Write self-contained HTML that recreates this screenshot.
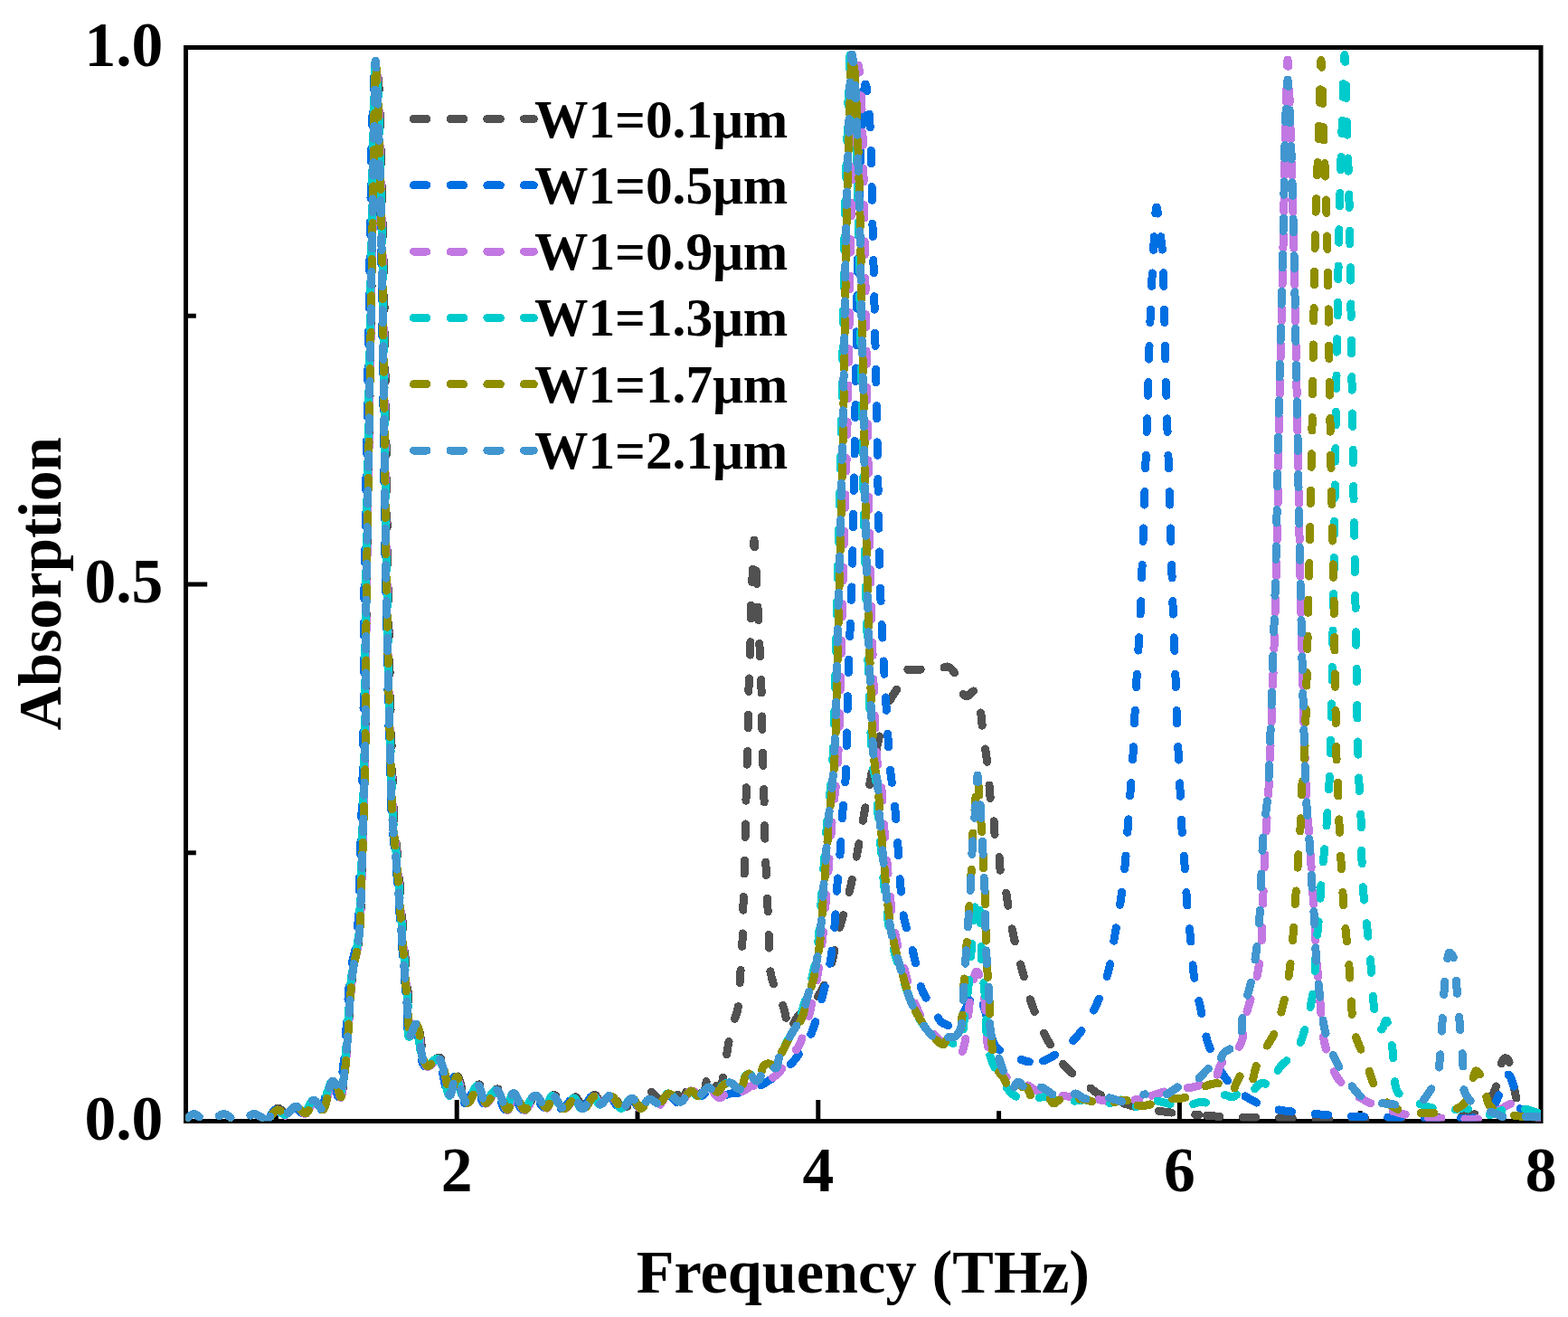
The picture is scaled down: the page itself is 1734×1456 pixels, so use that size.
<!DOCTYPE html>
<html><head><meta charset="utf-8"><title>Absorption vs Frequency</title>
<style>
html,body{margin:0;padding:0;background:#fff;}
svg{display:block;}
text{font-family:"Liberation Serif","Times New Roman",serif;font-weight:bold;fill:#000;}
</style></head><body>
<svg width="1734" height="1456" viewBox="0 0 1734 1456">
<defs><clipPath id="pc"><rect x="205.5" y="52.5" width="1498.5" height="1187.0"/></clipPath></defs>
<rect width="1734" height="1456" fill="#fff"/>
<g stroke="#000" stroke-width="5" fill="none">
<rect x="205.5" y="52.5" width="1498.5" height="1187.0"/>
<line x1="505.2" y1="1239.5" x2="505.2" y2="1216.0"/>
<line x1="904.8" y1="1239.5" x2="904.8" y2="1216.0"/>
<line x1="1304.4" y1="1239.5" x2="1304.4" y2="1216.0"/>
<line x1="305.4" y1="1239.5" x2="305.4" y2="1228.2"/>
<line x1="705.0" y1="1239.5" x2="705.0" y2="1228.2"/>
<line x1="1104.6" y1="1239.5" x2="1104.6" y2="1228.2"/>
<line x1="1504.2" y1="1239.5" x2="1504.2" y2="1228.2"/>
<line x1="205.5" y1="646.0" x2="229.2" y2="646.0"/>
<line x1="205.5" y1="942.8" x2="216.8" y2="942.8"/>
<line x1="205.5" y1="349.2" x2="216.8" y2="349.2"/>
</g>
<g clip-path="url(#pc)" shape-rendering="crispEdges" fill="none" stroke-width="9" stroke-linecap="round" stroke-linejoin="round" stroke-dasharray="14.5 25.8">
<path d="M205.0 1238.0C208.0 1235.8 211.0 1231.7 214.0 1231.5C216.7 1231.3 219.3 1234.4 222.0 1236.0C224.8 1237.6 227.7 1241.0 230.5 1241.0C233.3 1241.0 236.1 1237.6 239.0 1236.0C241.8 1234.4 244.7 1231.5 247.5 1231.5C250.3 1231.5 253.2 1234.4 256.0 1236.0C258.7 1237.6 261.3 1241.0 264.0 1241.0C266.8 1241.0 269.6 1237.6 272.5 1236.0C275.3 1234.4 278.2 1231.6 281.0 1231.5C283.7 1231.4 286.4 1234.1 289.0 1235.0C291.4 1235.9 293.6 1237.7 296.0 1237.0" stroke="#515151" stroke-dashoffset="36.29"/>
<path d="M296.0 1237.0C299.6 1236.0 303.4 1225.7 307.2 1225.2C310.5 1224.8 313.9 1231.4 317.2 1231.2C320.9 1230.9 324.6 1222.3 328.2 1222.2C331.6 1222.1 335.1 1229.7 338.2 1229.2C341.9 1228.6 344.8 1215.4 348.2 1215.2C351.2 1215.0 354.7 1225.7 357.2 1225.2C360.3 1224.6 361.9 1210.8 364.2 1205.2C365.9 1200.9 367.4 1194.4 369.2 1194.2C370.5 1194.0 372.0 1197.0 373.2 1199.2C374.8 1202.2 376.0 1211.3 377.2 1211.2C378.9 1211.1 380.1 1195.3 381.3 1186.0C382.7 1174.7 383.6 1161.8 384.7 1148.0C386.0 1131.6 386.9 1108.9 388.3 1094.0C389.3 1083.4 390.1 1076.0 391.5 1067.0C392.9 1058.0 395.5 1051.5 396.9 1040.0C399.3 1020.1 399.4 987.2 400.5 958.0C401.7 924.5 402.9 891.5 403.7 850.0C404.8 793.5 404.7 716.7 405.5 650.0C406.4 583.3 407.7 516.7 408.8 450.0C409.9 383.3 411.2 305.2 412.1 250.0C412.7 210.9 413.1 181.8 413.7 150.0C414.2 121.0 413.8 67.1 415.3 67.0C416.2 67.0 418.0 84.1 418.9 95.0C420.2 110.2 420.2 128.9 420.9 150.0C421.8 178.4 422.8 210.9 423.6 250.0C424.7 305.2 425.6 383.3 426.5 450.0C427.4 516.7 427.9 583.3 429.1 650.0C430.3 716.7 432.4 804.4 433.8 850.0C434.5 873.7 434.7 886.0 435.8 904.0C437.0 922.0 439.2 939.9 440.7 958.0C442.2 976.2 443.3 994.8 444.7 1013.0C446.0 1031.1 447.4 1049.0 448.8 1067.0C450.2 1085.0 452.0 1106.6 452.9 1121.0C453.5 1130.7 452.4 1144.8 454.2 1145.2C455.6 1145.5 459.1 1130.9 461.2 1131.2C464.5 1131.6 466.2 1163.9 469.2 1171.2C470.5 1174.3 471.2 1176.8 473.2 1177.2C476.1 1177.8 482.5 1167.8 486.2 1169.2C492.3 1171.5 495.4 1210.2 498.9 1210.2C501.4 1210.2 502.5 1188.8 505.2 1188.7C508.4 1188.5 512.7 1217.4 517.2 1217.9C521.1 1218.3 526.5 1198.4 530.0 1198.8C533.3 1199.1 534.1 1217.3 537.6 1217.9C540.9 1218.5 546.4 1203.4 550.2 1203.9C554.5 1204.4 558.4 1225.3 561.7 1225.2C564.6 1225.1 566.1 1208.0 569.2 1207.7C572.4 1207.4 576.7 1225.0 580.8 1225.2C584.7 1225.4 589.1 1210.3 593.2 1210.2C597.1 1210.1 601.6 1223.2 604.9 1222.9C608.0 1222.6 609.5 1210.4 612.5 1210.2C615.8 1210.0 619.8 1223.9 623.9 1224.2C627.9 1224.5 633.0 1212.4 636.6 1212.8C640.0 1213.2 642.0 1225.0 645.2 1225.2C648.9 1225.4 654.2 1210.1 657.8 1210.2C660.7 1210.3 662.3 1219.9 665.2 1220.2C668.4 1220.5 672.5 1210.0 676.2 1210.2C680.4 1210.4 684.3 1223.5 689.2 1224.2C694.2 1224.9 700.7 1217.0 706.0 1214.0" stroke="#515151" stroke-dashoffset="25.21"/>
<path d="M706.0 1214.0C710.7 1211.4 715.2 1206.5 719.4 1207.0C723.9 1207.5 727.8 1218.0 732.0 1218.0C736.4 1218.0 741.2 1206.0 745.2 1206.0C748.4 1206.0 751.2 1214.3 754.0 1214.0C757.5 1213.6 760.7 1199.2 764.0 1199.0C766.7 1198.8 769.2 1207.0 772.0 1208.0C774.0 1208.7 776.4 1208.5 778.0 1207.0C781.0 1204.3 781.3 1187.2 783.5 1187.0C785.4 1186.8 787.2 1198.3 790.0 1200.0C791.9 1201.2 794.8 1201.3 796.5 1200.0C799.3 1197.9 799.7 1188.3 800.8 1183.0C801.8 1178.4 802.3 1174.3 803.0 1170.0C803.7 1165.7 804.2 1161.4 805.0 1157.0C805.8 1152.4 806.9 1147.7 808.0 1143.0C809.2 1138.1 810.6 1132.8 812.0 1128.0C813.3 1123.5 815.0 1120.4 816.0 1115.0C817.6 1106.4 817.7 1092.9 818.5 1081.0C819.4 1068.0 820.4 1053.6 821.0 1040.0C821.6 1026.6 821.6 1013.3 822.0 1000.0C822.4 986.7 822.9 975.6 823.3 960.0C823.9 937.9 824.5 901.9 825.1 880.0C825.5 864.7 825.9 854.2 826.3 841.0C826.7 827.5 827.1 813.6 827.4 800.0C827.7 786.6 827.6 773.3 828.0 760.0C828.4 746.7 829.3 733.4 829.7 720.0C830.1 706.4 829.9 692.7 830.3 679.0C830.7 665.3 831.4 651.7 832.0 638.0C832.6 624.3 833.3 597.0 834.0 597.0C834.8 597.0 835.8 625.0 836.5 638.0C837.1 649.9 837.5 660.1 838.0 672.0C838.6 685.0 839.3 699.6 839.9 713.0C840.5 725.9 841.3 738.1 841.7 751.0C842.2 764.4 842.3 778.3 842.6 792.0C842.9 805.7 843.1 819.6 843.5 833.0C843.9 845.9 844.5 858.1 844.8 871.0C845.1 884.4 845.1 898.4 845.4 912.0C845.7 925.4 846.3 938.6 846.8 952.0C847.3 965.6 847.9 979.4 848.5 993.0C849.1 1006.4 849.7 1019.8 850.2 1033.0C850.7 1046.1 849.9 1060.8 851.6 1072.0C853.0 1080.8 855.4 1088.3 858.0 1095.0C860.1 1100.6 863.4 1105.0 865.3 1110.0C867.0 1114.7 868.1 1119.1 869.0 1124.0C870.0 1129.1 869.3 1139.5 871.0 1140.0C872.2 1140.3 874.3 1136.4 876.0 1134.0C878.2 1130.9 880.3 1126.1 883.0 1123.0C885.4 1120.2 888.2 1118.5 891.0 1116.0C894.2 1113.2 897.7 1111.3 901.0 1107.0C906.1 1100.4 911.9 1089.0 916.0 1078.0C920.8 1064.9 923.0 1046.9 926.6 1033.0C929.7 1020.8 933.0 1010.7 936.0 999.0C939.1 986.7 942.1 973.9 944.7 961.0C947.4 947.6 949.6 933.5 952.0 920.0C954.4 906.8 956.6 893.7 959.0 881.0C961.3 868.8 963.6 856.7 966.0 845.0C968.2 833.9 970.4 821.6 972.8 812.6C974.6 806.1 976.5 801.9 978.3 796.0" stroke="#515151" stroke-dashoffset="23.75"/>
<path d="M978.3 796.0C980.4 789.2 981.6 780.5 984.4 774.0C986.9 768.3 990.8 764.3 993.7 759.0C996.7 753.4 998.2 743.6 1002.0 741.0C1004.5 739.3 1008.0 740.7 1011.0 740.5C1014.0 740.3 1016.4 740.2 1020.0 740.0C1025.5 739.7 1035.9 739.8 1041.0 739.0C1044.0 738.5 1045.8 736.5 1048.0 737.0C1050.6 737.6 1053.5 740.8 1055.5 744.0C1058.2 748.2 1058.4 756.4 1061.0 761.0C1063.1 764.7 1066.2 769.7 1069.0 770.0C1071.6 770.3 1074.8 763.3 1077.0 764.0C1080.5 765.1 1082.8 779.4 1084.4 786.5C1085.7 792.6 1085.6 797.8 1086.4 804.0C1087.3 811.1 1088.6 820.2 1089.5 827.0C1090.3 832.5 1091.0 836.4 1091.6 842.0C1092.4 849.1 1093.1 858.5 1093.8 866.0C1094.4 872.7 1094.7 878.6 1095.5 885.0C1096.3 891.6 1098.0 898.3 1098.8 905.0C1099.6 911.6 1099.4 918.5 1100.4 925.0C1101.4 931.5 1103.8 937.5 1104.8 944.0C1105.8 950.5 1105.3 957.5 1106.5 964.0C1107.7 970.5 1110.6 976.8 1112.0 983.0C1113.3 988.8 1113.6 993.4 1114.7 1000.0C1116.3 1009.3 1118.2 1022.2 1120.6 1033.7C1123.2 1045.8 1126.6 1058.3 1129.9 1070.7C1133.3 1083.5 1136.3 1096.8 1140.8 1109.4C1145.3 1122.0 1150.7 1134.9 1156.8 1146.4C1162.5 1157.2 1168.1 1167.4 1176.0 1176.7C1184.5 1186.6 1199.4 1197.7 1206.6 1203.4C1210.4 1206.4 1211.4 1207.6 1215.5 1209.8C1223.1 1213.8 1238.3 1218.8 1250.0 1222.0C1261.6 1225.1 1273.1 1227.1 1285.3 1228.8C1298.3 1230.7 1312.6 1231.5 1326.0 1232.6" stroke="#515151" stroke-dashoffset="18.12"/>
<path d="M1326.0 1232.6C1339.2 1233.7 1352.0 1234.7 1365.2 1235.2C1378.7 1235.7 1392.1 1235.0 1406.0 1235.3C1420.4 1235.6 1434.9 1236.7 1450.0 1237.0C1466.1 1237.3 1483.3 1237.2 1500.0 1237.0C1516.7 1236.8 1533.3 1236.3 1550.0 1236.0C1566.7 1235.7 1584.8 1236.2 1600.0 1235.0C1612.7 1234.0 1626.7 1234.5 1635.0 1230.0C1641.2 1226.6 1644.6 1220.2 1648.0 1215.0C1651.1 1210.2 1653.3 1205.3 1655.0 1200.0C1656.7 1194.4 1656.3 1187.3 1658.0 1182.0C1659.5 1177.5 1661.8 1170.8 1664.0 1170.0C1665.2 1169.6 1666.6 1170.3 1667.7 1171.5C1670.1 1174.3 1670.8 1184.5 1672.2 1191.0C1673.6 1197.4 1674.6 1204.0 1676.0 1210.0C1677.3 1215.6 1677.7 1221.9 1680.4 1226.0C1682.7 1229.6 1686.1 1232.3 1690.0 1234.0C1694.4 1235.9 1700.7 1235.3 1706.0 1236.0" stroke="#515151" stroke-dashoffset="31.88"/>
<path d="M205.0 1238.0C208.0 1235.8 211.0 1231.7 214.0 1231.5C216.7 1231.3 219.3 1234.4 222.0 1236.0C224.8 1237.6 227.7 1241.0 230.5 1241.0C233.3 1241.0 236.1 1237.6 239.0 1236.0C241.8 1234.4 244.7 1231.5 247.5 1231.5C250.3 1231.5 253.2 1234.4 256.0 1236.0C258.7 1237.6 261.3 1241.0 264.0 1241.0C266.8 1241.0 269.6 1237.6 272.5 1236.0C275.3 1234.4 278.2 1231.6 281.0 1231.5C283.7 1231.4 286.4 1234.1 289.0 1235.0C291.4 1235.9 293.8 1237.7 296.0 1237.0" stroke="#006fe2" stroke-dashoffset="36.29"/>
<path d="M296.0 1237.0C299.0 1236.1 301.2 1227.5 304.4 1227.0C307.4 1226.5 311.1 1233.2 314.4 1233.0C318.1 1232.7 321.8 1224.1 325.4 1224.0C328.8 1223.9 332.3 1231.5 335.4 1231.0C339.1 1230.4 342.0 1217.2 345.4 1217.0C348.4 1216.8 351.9 1227.5 354.4 1227.0C357.5 1226.4 359.1 1212.6 361.4 1207.0C363.1 1202.7 364.6 1196.2 366.4 1196.0C367.7 1195.8 369.2 1198.8 370.4 1201.0C372.0 1204.0 373.2 1213.1 374.4 1213.0C376.2 1212.9 377.6 1195.8 378.8 1186.0C380.3 1174.4 381.1 1161.8 382.2 1148.0C383.5 1131.6 384.4 1108.9 385.8 1094.0C386.8 1083.4 387.6 1076.0 389.0 1067.0C390.4 1058.0 393.0 1051.5 394.4 1040.0C396.8 1020.1 396.9 987.2 398.0 958.0C399.2 924.5 400.4 891.5 401.2 850.0C402.3 793.5 402.2 716.7 403.0 650.0C403.9 583.3 405.2 516.7 406.3 450.0C407.4 383.3 408.7 305.2 409.6 250.0C410.2 210.9 410.2 181.8 411.2 150.0C412.1 121.0 414.4 67.0 415.3 67.0C415.8 67.0 416.0 84.1 416.4 95.0C417.0 110.3 417.7 128.9 418.4 150.0C419.3 178.4 420.3 210.9 421.1 250.0C422.2 305.2 423.1 383.3 424.0 450.0C424.9 516.7 425.4 583.3 426.6 650.0C427.8 716.7 429.9 804.4 431.3 850.0C432.0 873.7 432.2 886.0 433.3 904.0C434.5 922.0 436.7 939.9 438.2 958.0C439.7 976.2 440.8 994.8 442.2 1013.0C443.5 1031.1 444.9 1049.0 446.3 1067.0C447.7 1085.0 449.6 1106.2 450.4 1121.0C451.0 1131.2 449.6 1146.6 451.4 1147.0C452.8 1147.3 456.3 1132.7 458.4 1133.0C461.7 1133.4 463.4 1165.7 466.4 1173.0C467.7 1176.1 468.4 1178.6 470.4 1179.0C473.3 1179.6 479.7 1169.6 483.4 1171.0C489.5 1173.3 492.6 1212.0 496.1 1212.0C498.6 1212.0 499.7 1190.6 502.4 1190.5C505.6 1190.3 509.9 1219.2 514.4 1219.7C518.3 1220.1 523.7 1200.2 527.2 1200.6C530.5 1200.9 531.3 1219.1 534.8 1219.7C538.1 1220.3 543.6 1205.2 547.4 1205.7C551.7 1206.2 555.6 1227.1 558.9 1227.0C561.8 1226.9 563.3 1209.8 566.4 1209.5C569.6 1209.2 573.9 1226.8 578.0 1227.0C581.9 1227.2 586.3 1212.1 590.4 1212.0C594.3 1211.9 598.8 1225.0 602.1 1224.7C605.2 1224.4 606.7 1212.2 609.7 1212.0C613.0 1211.8 617.0 1225.7 621.1 1226.0C625.1 1226.3 630.2 1214.2 633.8 1214.6C637.2 1215.0 639.2 1226.8 642.4 1227.0C646.1 1227.2 651.4 1211.9 655.0 1212.0C657.9 1212.1 659.5 1221.7 662.4 1222.0C665.6 1222.3 669.7 1211.8 673.4 1212.0C677.6 1212.2 682.2 1225.9 686.4 1226.0C690.2 1226.1 693.7 1215.0 697.4 1215.0C701.0 1215.0 704.8 1225.8 708.3 1225.7" stroke="#006fe2" stroke-dashoffset="36.57"/>
<path d="M708.3 1225.7C711.7 1225.6 714.5 1215.4 718.0 1215.0C721.3 1214.6 725.3 1222.4 728.6 1222.0C732.2 1221.6 734.9 1211.4 738.7 1211.0C742.8 1210.6 748.4 1221.5 752.6 1221.0C756.7 1220.5 759.5 1209.1 763.6 1208.0C767.0 1207.1 771.0 1212.2 774.5 1212.0C777.8 1211.8 780.7 1207.1 784.0 1207.0C787.5 1206.9 791.1 1211.6 795.0 1212.0C799.1 1212.4 803.9 1209.7 808.0 1209.0C811.5 1208.4 814.6 1208.9 818.0 1208.0C821.9 1207.0 826.0 1204.4 830.0 1203.0C833.7 1201.7 837.4 1201.5 841.0 1200.0C845.0 1198.3 848.7 1195.5 852.7 1193.0C857.0 1190.2 861.8 1187.4 866.0 1184.0C870.4 1180.5 874.8 1176.4 878.5 1172.0C882.1 1167.7 884.9 1163.0 888.0 1158.0C891.3 1152.7 894.8 1147.9 897.8 1141.0C901.9 1131.4 905.3 1117.4 908.6 1105.0C912.1 1091.8 915.6 1077.7 918.0 1064.0C920.4 1050.4 921.8 1036.4 923.0 1023.0C924.2 1010.1 924.4 997.9 925.4 985.0C926.4 971.6 928.0 957.7 929.0 944.0C930.0 930.3 930.4 916.7 931.4 903.0C932.4 889.3 934.0 879.0 935.0 862.0C936.6 833.9 936.8 786.3 938.0 750.0C939.1 715.7 940.6 689.1 941.8 650.0C943.4 594.8 945.0 505.2 946.0 450.0C946.7 410.9 946.9 385.5 947.5 350.0C948.2 309.5 948.9 258.1 950.0 220.0C950.8 190.1 951.6 163.1 953.0 140.0C954.1 122.2 955.5 93.1 957.0 93.0C957.8 93.0 958.8 99.7 959.5 105.0C960.9 115.2 961.8 132.0 962.6 150.0C963.8 176.8 964.1 210.9 965.0 250.0C966.3 305.2 968.1 383.3 969.5 450.0C970.9 516.7 971.4 590.5 973.5 650.0C975.2 698.0 977.9 743.3 980.0 780.0C981.5 806.9 982.8 833.8 984.4 850.0C985.2 858.7 986.1 862.9 987.0 870.0C988.0 878.1 989.1 886.4 990.0 896.0C991.1 908.0 992.1 923.2 993.0 936.5C993.9 949.5 994.4 962.2 995.5 975.0C996.6 987.8 997.5 1002.6 999.5 1013.5C1001.0 1021.8 1003.2 1027.9 1005.0 1035.0C1006.8 1041.9 1008.5 1047.6 1010.4 1055.5C1013.0 1066.0 1015.4 1083.4 1018.8 1092.5C1021.0 1098.3 1023.3 1101.9 1026.0 1106.0C1028.4 1109.7 1031.6 1112.3 1034.0 1116.0C1036.6 1120.1 1037.1 1126.6 1040.7 1129.6C1044.3 1132.6 1051.4 1135.6 1055.7 1134.0C1060.8 1132.1 1064.2 1121.2 1068.0 1115.0C1071.6 1109.2 1074.7 1098.2 1078.0 1098.0C1080.7 1097.8 1083.7 1103.6 1086.0 1108.0C1089.4 1114.6 1091.3 1126.4 1094.0 1135.0C1096.5 1143.0 1097.1 1152.6 1101.8 1158.0C1106.1 1162.9 1115.0 1164.6 1119.8 1167.0C1123.1 1168.6 1125.1 1169.9 1128.0 1171.0C1131.2 1172.2 1134.7 1173.5 1138.3 1174.0" stroke="#006fe2" stroke-dashoffset="40.16"/>
<path d="M1138.3 1174.0C1142.0 1174.5 1146.3 1174.7 1150.0 1174.0C1153.5 1173.3 1156.7 1171.6 1160.0 1170.0C1163.4 1168.3 1166.9 1166.1 1170.0 1164.0C1172.9 1162.1 1175.0 1160.6 1178.0 1158.0C1182.3 1154.3 1188.1 1149.8 1193.0 1143.5C1199.8 1134.9 1207.4 1121.5 1212.9 1109.8C1218.3 1098.3 1222.3 1086.5 1225.6 1074.0C1229.1 1060.9 1230.6 1046.7 1233.0 1033.0C1235.4 1019.3 1237.9 1005.4 1239.8 992.0C1241.6 979.2 1243.1 967.3 1244.3 954.5C1245.6 941.1 1246.3 927.0 1247.3 913.3C1248.3 899.5 1249.3 885.4 1250.3 872.0C1251.2 859.3 1252.3 847.4 1253.0 834.7C1253.8 821.3 1254.2 807.0 1254.8 793.6C1255.4 780.8 1256.0 769.1 1256.7 756.0C1257.5 741.7 1258.5 724.7 1259.3 711.2C1259.9 700.1 1260.4 694.6 1261.0 680.8C1262.3 651.5 1264.4 586.0 1265.9 543.4C1267.2 506.5 1268.2 472.8 1269.3 440.0C1270.3 410.1 1270.9 382.1 1272.0 354.5C1273.0 328.5 1274.2 301.6 1275.5 279.0C1276.6 260.6 1277.6 229.1 1279.0 229.0C1279.9 229.0 1281.0 242.4 1282.0 250.0C1283.2 258.9 1284.6 267.0 1285.5 279.0C1287.0 298.2 1287.1 328.5 1287.8 354.5C1288.6 382.1 1289.0 410.1 1289.9 440.0C1290.8 472.8 1292.1 506.5 1293.3 543.4C1294.6 585.9 1296.1 641.3 1297.4 680.8C1298.4 710.8 1299.7 738.2 1300.4 760.0C1300.9 775.3 1301.1 786.0 1301.6 799.0C1302.1 812.1 1302.8 825.2 1303.4 838.5C1304.0 852.1 1304.7 865.9 1305.3 879.6C1305.9 893.3 1306.4 907.4 1307.2 920.8C1308.0 933.6 1309.3 945.4 1310.2 958.2C1311.2 971.6 1311.7 986.0 1312.8 999.4C1313.8 1012.2 1315.3 1024.0 1316.5 1036.8C1317.8 1050.2 1318.4 1064.6 1320.3 1078.0C1322.2 1090.8 1325.1 1102.7 1327.8 1115.4C1330.6 1128.6 1332.1 1142.7 1336.8 1155.6C1341.6 1168.7 1348.3 1183.2 1356.4 1193.4C1363.5 1202.3 1372.4 1209.2 1381.4 1214.6C1389.9 1219.8 1398.5 1223.0 1408.7 1225.7C1420.7 1228.9 1436.1 1229.6 1449.4 1231.0C1462.2 1232.3 1474.4 1233.3 1487.0 1234.0C1499.6 1234.7 1510.2 1234.7 1525.0 1235.0C1545.8 1235.4 1578.9 1236.4 1600.0 1236.0C1615.4 1235.7 1631.4 1237.3 1640.0 1234.0C1644.9 1232.2 1647.2 1229.4 1650.0 1226.0C1653.0 1222.2 1655.0 1216.9 1657.0 1212.0C1659.0 1206.9 1659.8 1200.3 1662.0 1196.0C1663.7 1192.7 1666.1 1187.8 1668.0 1188.0C1670.5 1188.3 1673.0 1198.3 1675.0 1204.0C1677.1 1210.2 1677.0 1218.8 1680.0 1224.0C1682.4 1228.3 1685.9 1232.0 1690.0 1234.0C1694.4 1236.2 1700.7 1235.3 1706.0 1236.0" stroke="#006fe2" stroke-dashoffset="24.82"/>
<path d="M205.0 1238.0C208.0 1235.8 211.0 1231.7 214.0 1231.5C216.7 1231.3 219.3 1234.4 222.0 1236.0C224.8 1237.6 227.7 1241.0 230.5 1241.0C233.3 1241.0 236.1 1237.6 239.0 1236.0C241.8 1234.4 244.7 1231.5 247.5 1231.5C250.3 1231.5 253.2 1234.4 256.0 1236.0C258.7 1237.6 261.3 1241.0 264.0 1241.0C266.8 1241.0 269.6 1237.6 272.5 1236.0C275.3 1234.4 278.2 1231.6 281.0 1231.5C283.7 1231.4 286.4 1234.1 289.0 1235.0C291.4 1235.9 293.6 1237.5 296.0 1237.0" stroke="#c278e2" stroke-dashoffset="36.29"/>
<path d="M296.0 1237.0C299.4 1236.2 303.1 1227.8 306.8 1227.5C310.1 1227.2 313.5 1233.7 316.8 1233.5C320.5 1233.2 324.2 1224.6 327.8 1224.5C331.2 1224.4 334.7 1232.0 337.8 1231.5C341.5 1230.9 344.4 1217.7 347.8 1217.5C350.8 1217.3 354.3 1228.0 356.8 1227.5C359.9 1226.9 361.5 1213.1 363.8 1207.5C365.5 1203.2 367.0 1196.7 368.8 1196.5C370.1 1196.3 371.6 1199.3 372.8 1201.5C374.4 1204.5 375.6 1213.6 376.8 1213.5C378.6 1213.4 380.0 1195.9 381.3 1186.0C382.8 1174.4 383.6 1161.8 384.7 1148.0C386.0 1131.6 386.9 1108.9 388.3 1094.0C389.3 1083.4 390.1 1076.0 391.5 1067.0C392.9 1058.0 395.5 1051.5 396.9 1040.0C399.3 1020.1 399.4 987.2 400.5 958.0C401.7 924.5 402.9 891.5 403.7 850.0C404.8 793.5 404.7 716.7 405.5 650.0C406.4 583.3 407.7 516.7 408.8 450.0C409.9 383.3 411.2 305.2 412.1 250.0C412.7 210.9 413.1 181.8 413.7 150.0C414.2 121.0 414.2 67.0 415.3 67.0C416.0 67.0 417.2 84.1 417.9 95.0C418.9 110.3 419.2 128.9 419.9 150.0C420.8 178.4 421.8 210.9 422.6 250.0C423.7 305.2 424.6 383.3 425.5 450.0C426.4 516.7 426.9 583.3 428.1 650.0C429.3 716.7 431.4 804.4 432.8 850.0C433.5 873.7 433.7 886.0 434.8 904.0C436.0 922.0 438.2 939.9 439.7 958.0C441.2 976.2 442.3 994.8 443.7 1013.0C445.0 1031.1 446.4 1049.0 447.8 1067.0C449.2 1085.0 450.8 1106.2 451.9 1121.0C452.7 1131.4 451.8 1147.1 453.8 1147.5C455.3 1147.8 458.7 1133.2 460.8 1133.5C464.1 1133.9 465.8 1166.2 468.8 1173.5C470.1 1176.6 470.8 1179.1 472.8 1179.5C475.7 1180.1 482.1 1170.1 485.8 1171.5C491.9 1173.8 495.0 1212.5 498.5 1212.5C501.0 1212.5 502.1 1191.1 504.8 1191.0C508.0 1190.8 512.3 1219.7 516.8 1220.2C520.7 1220.6 526.1 1200.7 529.6 1201.1C532.9 1201.4 533.7 1219.6 537.2 1220.2C540.5 1220.8 546.0 1205.7 549.8 1206.2C554.1 1206.7 558.0 1227.6 561.3 1227.5C564.2 1227.4 565.7 1210.3 568.8 1210.0C572.0 1209.7 576.3 1227.3 580.4 1227.5C584.3 1227.7 588.7 1212.6 592.8 1212.5C596.7 1212.4 601.2 1225.5 604.5 1225.2C607.6 1224.9 609.1 1212.7 612.1 1212.5C615.4 1212.3 619.4 1226.2 623.5 1226.5C627.5 1226.8 632.6 1214.7 636.2 1215.1C639.6 1215.5 641.6 1227.3 644.8 1227.5C648.5 1227.7 653.8 1212.4 657.4 1212.5C660.3 1212.6 661.9 1222.2 664.8 1222.5C668.0 1222.8 672.1 1212.3 675.8 1212.5C680.0 1212.7 684.6 1226.4 688.8 1226.5C692.6 1226.6 696.4 1215.3 699.8 1215.5C702.9 1215.6 705.3 1225.6 708.3 1225.7" stroke="#c278e2" stroke-dashoffset="29.84"/>
<path d="M708.3 1225.7C711.4 1225.8 714.5 1215.4 718.0 1215.0C721.3 1214.6 725.3 1222.5 728.6 1222.0C732.3 1221.5 734.8 1210.5 738.7 1210.0C742.8 1209.5 748.5 1220.6 752.6 1220.0C756.8 1219.4 759.2 1207.2 763.6 1206.0C767.7 1204.9 774.0 1212.5 778.0 1212.0C781.2 1211.6 783.2 1206.0 786.0 1206.0C789.2 1206.0 792.6 1214.1 796.0 1214.0C799.9 1213.9 804.5 1203.2 808.0 1203.0C810.6 1202.8 812.4 1207.6 815.0 1208.0C817.8 1208.4 821.5 1206.1 824.4 1204.7C827.1 1203.4 829.3 1200.4 832.0 1200.0C834.8 1199.6 838.2 1203.4 841.0 1202.7C844.2 1201.9 846.7 1196.6 850.0 1194.0C853.4 1191.3 857.8 1190.0 861.0 1186.7C864.6 1182.9 866.5 1176.8 870.0 1172.0C873.8 1166.9 879.7 1162.6 883.0 1157.0C886.4 1151.3 888.0 1144.2 890.0 1138.0C891.9 1132.2 893.3 1127.5 895.0 1121.0C897.3 1112.2 899.9 1100.9 902.0 1090.0C904.3 1078.0 906.3 1065.7 908.0 1052.0C910.0 1036.1 911.5 1017.2 913.0 1000.0C914.5 983.2 915.7 966.8 917.0 950.0C918.3 932.8 919.5 915.0 921.0 898.0C922.5 881.7 924.6 871.5 926.0 850.0C928.9 806.2 930.1 716.7 932.0 650.0C933.9 583.3 936.0 516.7 937.5 450.0C939.0 383.3 939.6 305.2 941.0 250.0C942.0 210.9 943.1 181.3 944.5 150.0C945.8 122.4 947.4 72.0 949.0 72.0C950.0 72.0 951.2 89.3 952.0 100.0C953.0 114.3 953.4 130.5 954.0 150.0C954.8 177.6 955.3 210.9 956.0 250.0C957.0 305.2 957.8 383.3 959.0 450.0C960.2 516.7 961.0 583.3 963.0 650.0C965.0 716.7 967.2 823.8 971.0 850.0C971.9 856.5 973.2 856.9 974.0 862.0C975.4 870.7 975.4 885.5 976.3 898.0C977.3 911.7 978.8 926.8 980.0 941.0C981.2 954.8 982.1 968.3 983.5 982.0C984.9 995.7 986.3 1010.7 988.3 1023.0C989.9 1033.1 992.0 1042.5 994.0 1050.5C995.6 1056.8 997.2 1061.1 999.0 1067.3C1001.2 1074.8 1003.4 1084.4 1006.0 1092.5C1008.4 1100.1 1011.1 1107.8 1014.0 1114.4C1016.5 1120.1 1018.9 1125.2 1022.0 1130.0C1025.0 1134.7 1028.3 1138.9 1032.0 1143.0C1035.9 1147.3 1040.8 1151.7 1045.0 1155.0C1048.5 1157.8 1051.8 1160.4 1055.0 1162.0C1057.6 1163.3 1060.5 1165.3 1062.5 1164.3C1065.4 1162.8 1066.6 1154.3 1068.0 1148.0C1069.8 1140.0 1069.9 1129.5 1071.0 1120.0C1072.2 1110.2 1073.1 1098.4 1075.0 1090.0C1076.4 1083.8 1078.1 1074.3 1080.0 1074.0C1081.2 1073.8 1082.9 1077.6 1084.0 1080.0C1085.5 1083.2 1086.5 1086.9 1087.4 1091.8C1088.9 1099.8 1089.4 1112.5 1090.4 1123.5C1091.5 1135.5 1090.3 1150.7 1093.5 1161.3C1096.1 1169.9 1102.1 1178.1 1105.6 1183.0C1107.6 1185.8 1108.9 1187.0 1111.0 1189.0C1113.5 1191.4 1116.5 1194.5 1120.0 1196.0C1123.8 1197.6 1128.9 1196.5 1133.0 1198.0C1137.2 1199.5 1140.5 1203.2 1145.0 1205.0C1150.2 1207.0 1156.8 1207.8 1162.7 1209.0C1168.5 1210.2 1173.9 1211.3 1180.0 1212.0C1186.8 1212.7 1193.9 1212.2 1201.6 1213.0C1210.4 1214.0 1220.4 1217.6 1230.0 1218.0C1239.8 1218.4 1250.0 1216.9 1260.0 1215.0" stroke="#c278e2" stroke-dashoffset="10.93"/>
<path d="M1260.0 1215.0C1270.5 1213.0 1281.0 1208.4 1291.6 1206.0C1302.1 1203.7 1315.5 1203.2 1323.4 1200.9C1328.3 1199.5 1331.6 1196.4 1335.0 1196.0C1337.6 1195.7 1339.9 1198.2 1342.0 1197.0C1345.7 1194.9 1347.2 1180.0 1350.4 1176.0C1352.2 1173.8 1354.1 1173.3 1356.0 1172.0C1358.0 1170.7 1359.9 1170.0 1362.0 1168.0C1365.3 1164.8 1370.1 1158.2 1372.4 1153.0C1374.6 1148.2 1375.0 1143.2 1376.0 1138.0C1377.0 1132.5 1377.0 1127.8 1378.4 1121.0C1380.6 1110.5 1386.9 1094.8 1389.7 1081.6C1392.4 1068.6 1393.9 1055.5 1395.0 1042.3C1396.1 1029.0 1396.0 1015.4 1396.5 1002.0C1397.0 988.6 1397.4 975.3 1398.0 962.0C1398.6 948.7 1399.3 935.5 1400.0 922.0C1400.8 908.2 1401.8 892.8 1402.5 880.0C1403.1 869.2 1403.4 864.4 1404.0 850.0C1405.6 812.8 1409.2 716.7 1411.0 650.0C1412.8 583.3 1413.6 516.7 1415.0 450.0C1416.4 383.3 1418.3 305.2 1419.5 250.0C1420.3 210.9 1420.7 181.9 1421.5 150.0C1422.2 120.8 1423.0 66.0 1424.0 66.0C1425.0 66.0 1426.3 120.8 1427.3 150.0C1428.4 181.9 1429.3 210.9 1430.3 250.0C1431.7 305.2 1433.1 383.3 1434.4 450.0C1435.7 516.7 1436.7 583.3 1438.2 650.0C1439.7 716.7 1441.9 806.8 1443.5 850.0C1444.2 870.7 1444.7 881.1 1445.6 896.0C1446.5 910.1 1448.0 923.6 1448.9 937.0C1449.8 949.9 1450.2 962.2 1451.0 975.0C1451.8 988.2 1452.9 1001.6 1453.7 1015.0C1454.5 1028.6 1454.8 1041.4 1455.8 1056.0C1456.9 1072.9 1458.7 1093.6 1460.2 1110.4C1461.5 1124.9 1461.3 1137.7 1464.3 1151.0C1467.4 1164.6 1472.5 1181.1 1478.8 1191.0C1483.5 1198.4 1489.1 1202.7 1495.3 1207.5C1501.7 1212.5 1509.2 1216.7 1516.9 1220.2C1524.8 1223.9 1533.4 1226.5 1542.2 1229.0C1551.5 1231.6 1561.7 1234.3 1571.4 1235.5C1580.9 1236.6 1589.7 1235.9 1600.0 1236.0C1612.2 1236.1 1629.2 1238.6 1640.0 1236.0C1648.1 1234.1 1654.0 1228.9 1660.0 1226.0C1664.8 1223.7 1669.0 1219.3 1673.0 1220.0C1677.4 1220.8 1679.9 1229.3 1685.0 1232.0C1690.7 1235.0 1699.0 1234.7 1706.0 1236.0" stroke="#c278e2" stroke-dashoffset="26.02"/>
<path d="M205.0 1238.0C208.0 1235.8 211.0 1231.7 214.0 1231.5C216.7 1231.3 219.3 1234.4 222.0 1236.0C224.8 1237.6 227.7 1241.0 230.5 1241.0C233.3 1241.0 236.1 1237.6 239.0 1236.0C241.8 1234.4 244.7 1231.5 247.5 1231.5C250.3 1231.5 253.2 1234.4 256.0 1236.0C258.7 1237.6 261.3 1241.0 264.0 1241.0C266.8 1241.0 269.6 1237.6 272.5 1236.0C275.3 1234.4 278.2 1231.6 281.0 1231.5C283.7 1231.4 286.4 1234.1 289.0 1235.0C291.4 1235.9 293.7 1237.7 296.0 1237.0" stroke="#00cbcc" stroke-dashoffset="36.29"/>
<path d="M296.0 1237.0C299.2 1236.1 301.9 1226.9 305.3 1226.4C308.4 1225.9 312.0 1232.6 315.3 1232.4C319.0 1232.1 322.7 1223.5 326.3 1223.4C329.7 1223.3 333.2 1230.9 336.3 1230.4C340.0 1229.8 342.9 1216.6 346.3 1216.4C349.3 1216.2 352.8 1226.9 355.3 1226.4C358.4 1225.8 360.0 1212.0 362.3 1206.4C364.0 1202.1 365.5 1195.6 367.3 1195.4C368.6 1195.2 370.1 1198.2 371.3 1200.4C372.9 1203.4 374.1 1212.5 375.3 1212.4C377.1 1212.3 378.9 1195.6 380.2 1186.0C381.8 1174.5 382.5 1161.8 383.6 1148.0C384.9 1131.6 385.8 1108.9 387.2 1094.0C388.2 1083.4 389.0 1076.0 390.4 1067.0C391.8 1058.0 394.4 1051.5 395.8 1040.0C398.2 1020.1 398.3 987.2 399.4 958.0C400.6 924.5 401.8 891.5 402.6 850.0C403.7 793.5 403.6 716.7 404.4 650.0C405.3 583.3 406.6 516.7 407.7 450.0C408.8 383.3 410.1 305.2 411.0 250.0C411.6 210.9 411.8 181.8 412.6 150.0C413.3 121.0 414.1 67.0 415.3 67.0C416.0 67.0 417.0 84.1 417.7 95.0C418.6 110.3 419.0 128.9 419.7 150.0C420.6 178.4 421.6 210.9 422.4 250.0C423.5 305.2 424.4 383.3 425.3 450.0C426.2 516.7 426.7 583.3 427.9 650.0C429.1 716.7 431.2 804.4 432.6 850.0C433.3 873.7 433.5 886.0 434.6 904.0C435.8 922.0 438.0 939.9 439.5 958.0C441.0 976.2 442.1 994.8 443.5 1013.0C444.8 1031.1 446.2 1049.0 447.6 1067.0C449.0 1085.0 451.0 1106.3 451.7 1121.0C452.2 1131.0 450.5 1146.0 452.3 1146.4C453.7 1146.7 457.2 1132.1 459.3 1132.4C462.6 1132.8 464.3 1165.1 467.3 1172.4C468.6 1175.5 469.3 1178.0 471.3 1178.4C474.2 1179.0 480.6 1169.0 484.3 1170.4C490.4 1172.7 493.5 1211.4 497.0 1211.4C499.5 1211.4 500.6 1190.0 503.3 1189.9C506.5 1189.7 510.8 1218.6 515.3 1219.1C519.2 1219.5 524.6 1199.6 528.1 1200.0C531.4 1200.3 532.2 1218.5 535.7 1219.1C539.0 1219.7 544.5 1204.6 548.3 1205.1C552.6 1205.6 556.5 1226.5 559.8 1226.4C562.7 1226.3 564.2 1209.2 567.3 1208.9C570.5 1208.6 574.8 1226.2 578.9 1226.4C582.8 1226.6 587.2 1211.5 591.3 1211.4C595.2 1211.3 599.7 1224.4 603.0 1224.1C606.1 1223.8 607.6 1211.6 610.6 1211.4C613.9 1211.2 617.9 1225.1 622.0 1225.4C626.0 1225.7 631.1 1213.6 634.7 1214.0C638.1 1214.4 640.1 1226.2 643.3 1226.4C647.0 1226.6 652.3 1211.3 655.9 1211.4C658.8 1211.5 660.4 1221.1 663.3 1221.4C666.5 1221.7 670.6 1211.2 674.3 1211.4C678.5 1211.6 683.1 1225.3 687.3 1225.4C691.1 1225.5 694.8 1214.3 698.3 1214.4C701.8 1214.5 705.0 1225.7 708.3 1225.7" stroke="#00cbcc" stroke-dashoffset="19.83"/>
<path d="M708.3 1225.7C711.5 1225.7 714.4 1215.7 718.0 1215.0C721.2 1214.4 725.3 1220.6 728.6 1220.0C732.3 1219.3 734.8 1209.5 738.7 1209.0C742.8 1208.5 748.4 1218.8 752.6 1218.3C756.7 1217.8 760.0 1206.4 763.6 1206.0C766.4 1205.7 769.6 1212.1 772.0 1212.0C773.9 1211.9 775.3 1209.5 777.0 1208.0C779.1 1206.2 781.4 1202.1 783.5 1202.0C785.4 1201.9 787.1 1205.2 789.0 1206.0C790.6 1206.7 792.5 1207.6 794.0 1207.0C795.9 1206.2 796.8 1201.7 799.0 1200.0C801.4 1198.3 805.3 1196.5 808.0 1197.0C810.6 1197.5 812.9 1201.9 815.0 1203.0C816.4 1203.7 817.8 1204.6 819.0 1204.0C821.2 1202.8 821.8 1192.8 824.0 1190.0C825.3 1188.3 826.9 1186.8 828.5 1187.0C830.8 1187.3 833.8 1194.6 836.0 1195.0C837.4 1195.3 838.9 1194.4 840.0 1193.0C842.1 1190.4 841.5 1180.6 844.0 1178.0C845.7 1176.3 848.4 1175.7 850.6 1176.0C853.1 1176.4 856.2 1181.7 858.0 1181.0C860.3 1180.2 860.2 1172.5 862.0 1168.0C864.2 1162.6 868.0 1156.0 870.7 1151.0C872.9 1146.9 874.9 1143.9 877.0 1140.0C879.4 1135.7 882.1 1131.7 884.3 1126.4C887.1 1119.6 889.1 1110.1 891.5 1102.0C893.9 1094.0 896.6 1086.9 898.7 1078.0C901.2 1067.3 903.1 1054.9 904.7 1042.0C906.5 1027.2 907.1 1010.0 908.3 994.0C909.5 978.0 910.7 962.0 911.9 946.0C913.1 930.0 914.1 914.0 915.5 898.0C916.9 882.0 918.9 871.5 920.3 850.0C923.1 806.2 924.2 716.7 926.0 650.0C927.8 583.3 929.5 516.7 930.9 450.0C932.3 383.3 933.0 305.2 934.2 250.0C935.1 210.9 935.9 182.5 937.0 150.0C938.0 119.2 938.8 60.1 940.5 60.0C941.5 60.0 943.1 78.3 944.0 90.0C945.3 106.5 945.7 127.5 946.5 150.0C947.5 179.1 948.4 210.9 949.3 250.0C950.6 305.2 951.9 383.3 953.3 450.0C954.7 516.7 955.4 583.3 957.5 650.0C959.6 716.7 962.3 823.8 965.8 850.0C966.7 856.5 967.8 856.9 968.5 862.0C969.8 870.7 969.9 885.5 970.8 898.0C971.8 911.7 973.3 926.8 974.5 941.0C975.7 954.8 976.6 968.3 978.0 982.0C979.4 995.7 980.8 1010.7 982.8 1023.0C984.4 1033.1 986.5 1042.5 988.5 1050.5C990.1 1056.8 991.5 1061.2 993.5 1067.3C995.9 1074.9 999.1 1084.4 1002.0 1092.5C1004.7 1100.1 1007.4 1107.9 1010.4 1114.4C1013.0 1120.0 1015.7 1124.8 1018.8 1129.6C1021.9 1134.3 1025.0 1138.9 1028.9 1143.0C1032.9 1147.3 1038.9 1154.8 1042.4 1154.8C1044.7 1154.8 1045.8 1150.2 1048.0 1150.0C1050.8 1149.8 1055.3 1156.2 1058.0 1156.0C1060.0 1155.9 1061.7 1154.2 1063.0 1152.0C1065.4 1147.8 1064.9 1137.9 1066.0 1130.0C1067.2 1120.8 1068.8 1110.7 1070.0 1100.0C1071.4 1087.6 1072.4 1073.3 1073.5 1060.0C1074.6 1046.7 1075.3 1032.1 1076.5 1020.0C1077.5 1009.8 1078.7 992.1 1080.0 992.0C1080.9 992.0 1082.2 999.0 1083.0 1005.0C1084.8 1017.9 1084.6 1047.9 1086.0 1067.0C1087.2 1083.5 1089.4 1098.1 1090.4 1113.0C1091.3 1127.0 1090.2 1142.5 1092.0 1154.0C1093.3 1162.6 1095.5 1170.1 1098.0 1176.0C1099.9 1180.4 1101.9 1182.6 1104.6 1186.8C1108.6 1193.1 1113.5 1205.4 1120.0 1210.0C1125.6 1214.0 1133.3 1214.7 1140.0 1215.0C1146.6 1215.3 1153.4 1211.5 1160.0 1212.0C1166.7 1212.5 1173.3 1217.4 1180.0 1218.0C1186.6 1218.6 1193.3 1215.5 1200.0 1216.0C1206.9 1216.5 1213.8 1221.2 1220.6 1221.2C1227.2 1221.2 1233.9 1215.4 1240.0 1216.0C1245.7 1216.5 1250.9 1223.8 1256.0 1223.7" stroke="#00cbcc" stroke-dashoffset="0.74"/>
<path d="M1256.0 1223.7C1260.9 1223.6 1265.0 1216.9 1270.0 1216.0C1275.2 1215.1 1281.4 1217.6 1286.6 1218.7C1291.3 1219.7 1295.2 1221.5 1300.0 1222.0C1305.3 1222.5 1311.7 1222.0 1317.0 1221.2C1321.7 1220.5 1325.8 1217.8 1330.0 1218.0C1334.1 1218.2 1338.1 1222.8 1341.8 1222.0C1346.1 1221.1 1350.1 1211.6 1354.0 1210.7C1356.8 1210.0 1359.6 1213.2 1362.0 1213.0C1364.2 1212.8 1366.1 1211.2 1368.0 1210.0C1370.1 1208.7 1371.9 1205.6 1374.0 1205.5C1376.2 1205.4 1378.9 1210.1 1381.0 1210.0C1382.8 1209.9 1384.3 1207.6 1386.0 1206.0C1388.0 1204.1 1389.8 1200.4 1392.0 1199.0C1393.8 1197.9 1396.0 1197.3 1398.0 1197.5C1400.3 1197.8 1403.1 1201.7 1405.0 1201.0C1407.3 1200.2 1408.2 1193.6 1410.0 1190.0C1411.7 1186.6 1412.7 1183.6 1415.4 1180.0C1419.4 1174.6 1428.7 1169.3 1433.5 1161.7C1439.2 1152.7 1442.4 1140.1 1445.6 1128.4C1449.0 1115.9 1451.5 1102.1 1453.1 1089.0C1454.7 1076.2 1454.4 1063.7 1455.3 1050.8C1456.3 1037.4 1457.8 1023.6 1458.9 1010.0C1459.9 996.5 1460.5 982.8 1461.6 969.4C1462.7 956.2 1464.5 943.1 1465.6 930.0C1466.7 916.9 1467.6 903.9 1468.4 890.7C1469.3 877.3 1470.0 868.7 1470.7 850.0C1472.3 808.6 1473.7 716.7 1474.8 650.0C1475.9 583.3 1476.5 516.7 1477.5 450.0C1478.5 383.3 1479.7 305.2 1481.0 250.0C1481.9 210.9 1482.8 182.4 1483.8 150.0C1484.8 119.3 1486.0 60.5 1487.0 60.5C1488.0 60.5 1489.1 119.3 1490.0 150.0C1491.0 182.4 1491.8 210.9 1492.6 250.0C1493.7 305.2 1494.4 383.3 1495.4 450.0C1496.4 516.7 1497.6 583.3 1498.7 650.0C1499.9 716.7 1500.8 804.3 1502.3 850.0C1503.1 873.8 1504.4 887.5 1505.0 904.3C1505.5 918.8 1505.3 931.4 1505.8 945.0C1506.2 958.5 1506.7 972.2 1507.7 985.6C1508.7 998.8 1510.4 1011.9 1511.8 1025.0C1513.1 1038.1 1514.7 1051.1 1515.8 1064.3C1516.9 1077.7 1517.2 1092.4 1518.6 1105.0C1519.9 1116.1 1520.4 1132.3 1523.6 1136.3C1524.8 1137.8 1526.7 1138.5 1528.0 1138.0C1530.0 1137.2 1531.6 1127.8 1533.0 1128.0C1534.7 1128.2 1535.8 1139.2 1537.0 1145.0C1538.3 1150.9 1539.6 1157.0 1540.4 1163.2C1541.2 1169.7 1540.7 1176.4 1541.5 1183.4C1542.3 1191.0 1542.1 1201.9 1545.4 1207.0C1547.8 1210.6 1551.3 1211.4 1555.5 1213.7C1561.8 1217.1 1572.1 1221.6 1580.3 1224.0C1587.9 1226.2 1596.1 1227.8 1603.1 1227.8C1609.2 1227.8 1614.2 1224.3 1620.0 1225.0C1626.5 1225.8 1633.2 1233.6 1640.0 1234.0C1646.6 1234.4 1653.3 1229.5 1660.0 1228.0C1666.6 1226.5 1672.9 1224.6 1680.0 1225.0C1688.1 1225.5 1697.3 1229.7 1706.0 1232.0" stroke="#00cbcc" stroke-dashoffset="13.98"/>
<path d="M205.0 1238.0C208.0 1235.8 211.0 1231.7 214.0 1231.5C216.7 1231.3 219.3 1234.4 222.0 1236.0C224.8 1237.6 227.7 1241.0 230.5 1241.0C233.3 1241.0 236.1 1237.6 239.0 1236.0C241.8 1234.4 244.7 1231.5 247.5 1231.5C250.3 1231.5 253.2 1234.4 256.0 1236.0C258.7 1237.6 261.3 1241.0 264.0 1241.0C266.8 1241.0 269.6 1237.6 272.5 1236.0C275.3 1234.4 278.2 1231.6 281.0 1231.5C283.7 1231.4 286.4 1234.1 289.0 1235.0C291.4 1235.9 293.6 1237.6 296.0 1237.0" stroke="#8e8e00" stroke-dashoffset="36.29"/>
<path d="M296.0 1237.0C299.5 1236.2 303.2 1227.3 306.9 1226.9C310.2 1226.6 313.6 1233.1 316.9 1232.9C320.6 1232.6 324.3 1224.0 327.9 1223.9C331.3 1223.8 334.8 1231.4 337.9 1230.9C341.6 1230.3 344.5 1217.1 347.9 1216.9C350.9 1216.7 354.4 1227.4 356.9 1226.9C360.0 1226.3 361.6 1212.5 363.9 1206.9C365.6 1202.6 367.1 1196.1 368.9 1195.9C370.2 1195.7 371.7 1198.7 372.9 1200.9C374.5 1203.9 375.7 1213.0 376.9 1212.9C378.6 1212.8 380.0 1195.8 381.2 1186.0C382.6 1174.4 383.5 1161.8 384.6 1148.0C385.9 1131.6 386.8 1108.9 388.2 1094.0C389.2 1083.4 390.0 1076.0 391.4 1067.0C392.8 1058.0 395.4 1051.5 396.8 1040.0C399.2 1020.1 399.3 987.2 400.4 958.0C401.6 924.5 402.8 891.5 403.6 850.0C404.7 793.5 404.6 716.7 405.4 650.0C406.3 583.3 407.6 516.7 408.7 450.0C409.8 383.3 411.1 305.2 412.0 250.0C412.6 210.9 413.0 181.8 413.6 150.0C414.1 121.0 414.4 67.0 415.3 67.0C415.8 67.0 416.7 84.1 417.3 95.0C418.1 110.3 418.6 128.9 419.3 150.0C420.2 178.4 421.2 210.9 422.0 250.0C423.1 305.2 424.0 383.3 424.9 450.0C425.8 516.7 426.3 583.3 427.5 650.0C428.7 716.7 430.8 804.4 432.2 850.0C432.9 873.7 433.1 886.0 434.2 904.0C435.4 922.0 437.6 939.9 439.1 958.0C440.6 976.2 441.7 994.8 443.1 1013.0C444.4 1031.1 445.8 1049.0 447.2 1067.0C448.6 1085.0 450.0 1106.3 451.3 1121.0C452.2 1131.2 451.8 1146.5 453.9 1146.9C455.5 1147.2 458.8 1132.6 460.9 1132.9C464.2 1133.3 465.9 1165.6 468.9 1172.9C470.2 1176.0 470.9 1178.5 472.9 1178.9C475.8 1179.5 482.2 1169.5 485.9 1170.9C492.0 1173.2 495.1 1211.9 498.6 1211.9C501.1 1211.9 502.2 1190.5 504.9 1190.4C508.1 1190.2 512.4 1219.1 516.9 1219.6C520.8 1220.0 526.2 1200.1 529.7 1200.5C533.0 1200.8 533.8 1219.0 537.3 1219.6C540.6 1220.2 546.1 1205.1 549.9 1205.6C554.2 1206.1 558.1 1227.0 561.4 1226.9C564.3 1226.8 565.8 1209.7 568.9 1209.4C572.1 1209.1 576.4 1226.7 580.5 1226.9C584.4 1227.1 588.8 1212.0 592.9 1211.9C596.8 1211.8 601.3 1224.9 604.6 1224.6C607.7 1224.3 609.2 1212.1 612.2 1211.9C615.5 1211.7 619.5 1225.6 623.6 1225.9C627.6 1226.2 632.7 1214.1 636.3 1214.5C639.7 1214.9 641.7 1226.7 644.9 1226.9C648.6 1227.1 653.9 1211.8 657.5 1211.9C660.4 1212.0 662.0 1221.6 664.9 1221.9C668.1 1222.2 672.2 1211.7 675.9 1211.9C680.1 1212.1 684.7 1225.8 688.9 1225.9C692.7 1226.0 696.5 1214.7 699.9 1214.9C703.1 1215.1 705.7 1225.6 708.8 1225.7" stroke="#8e8e00" stroke-dashoffset="36.29"/>
<path d="M708.8 1225.7C711.9 1225.8 714.9 1215.7 718.5 1215.0C721.7 1214.4 725.8 1220.6 729.1 1220.0C732.8 1219.3 735.3 1209.5 739.2 1209.0C743.3 1208.5 748.9 1218.8 753.1 1218.3C757.2 1217.8 760.5 1206.4 764.1 1206.0C766.9 1205.7 770.1 1212.1 772.5 1212.0C774.4 1211.9 775.8 1209.5 777.5 1208.0C779.6 1206.2 781.9 1202.1 784.0 1202.0C785.9 1201.9 787.6 1205.2 789.5 1206.0C791.1 1206.7 793.0 1207.6 794.5 1207.0C796.4 1206.2 797.3 1201.7 799.5 1200.0C801.9 1198.3 805.8 1196.5 808.5 1197.0C811.1 1197.5 813.4 1201.9 815.5 1203.0C816.9 1203.7 818.3 1204.6 819.5 1204.0C821.7 1202.8 822.3 1192.8 824.5 1190.0C825.8 1188.3 827.4 1186.8 829.0 1187.0C831.3 1187.3 834.3 1194.6 836.5 1195.0C837.9 1195.3 839.4 1194.4 840.5 1193.0C842.6 1190.4 842.0 1180.6 844.5 1178.0C846.2 1176.3 848.9 1175.7 851.1 1176.0C853.6 1176.4 856.7 1181.7 858.5 1181.0C860.8 1180.2 860.7 1172.5 862.5 1168.0C864.7 1162.6 868.5 1156.0 871.2 1151.0C873.4 1146.9 875.2 1143.8 877.5 1140.0C880.1 1135.7 883.8 1131.8 886.3 1126.4C889.4 1119.6 891.1 1110.1 893.5 1102.0C895.9 1094.0 898.6 1086.9 900.7 1078.0C903.2 1067.3 905.1 1054.9 906.7 1042.0C908.5 1027.2 909.1 1010.0 910.3 994.0C911.5 978.0 912.7 962.0 913.9 946.0C915.1 930.0 916.1 914.0 917.5 898.0C918.9 882.0 920.9 871.5 922.3 850.0C925.1 806.2 926.2 716.7 928.0 650.0C929.8 583.3 931.5 516.7 932.9 450.0C934.3 383.3 935.0 305.2 936.2 250.0C937.1 210.9 937.9 182.5 939.0 150.0C940.0 119.2 940.8 60.1 942.5 60.0C943.5 60.0 945.1 78.3 946.0 90.0C947.3 106.5 947.7 127.5 948.5 150.0C949.5 179.1 950.4 210.9 951.3 250.0C952.6 305.2 953.9 383.3 955.3 450.0C956.7 516.7 957.4 583.3 959.5 650.0C961.6 716.7 964.3 823.8 967.8 850.0C968.7 856.5 969.8 856.9 970.5 862.0C971.8 870.7 971.9 885.5 972.8 898.0C973.8 911.7 975.3 926.8 976.5 941.0C977.7 954.8 978.6 968.3 980.0 982.0C981.4 995.7 982.8 1010.7 984.8 1023.0C986.4 1033.1 988.5 1042.5 990.5 1050.5C992.1 1056.8 993.7 1061.1 995.5 1067.3C997.7 1074.8 999.8 1084.5 1002.5 1092.5C1005.0 1100.1 1007.9 1107.9 1010.9 1114.4C1013.5 1120.0 1016.2 1124.8 1019.3 1129.6C1022.4 1134.3 1025.5 1138.9 1029.4 1143.0C1033.4 1147.3 1039.6 1155.1 1042.9 1154.8C1045.2 1154.6 1045.7 1149.1 1048.0 1148.0C1050.4 1146.8 1054.7 1149.3 1057.0 1148.0C1059.4 1146.7 1060.8 1143.3 1062.0 1140.0C1063.5 1135.6 1063.4 1130.2 1064.0 1123.5C1064.9 1112.9 1065.4 1097.4 1066.3 1082.7C1067.4 1065.5 1069.0 1044.9 1070.2 1026.8C1071.4 1009.7 1072.6 992.6 1073.5 977.0C1074.3 963.2 1074.6 950.2 1075.2 937.8C1075.7 926.6 1076.1 914.8 1076.8 906.0C1077.3 899.8 1078.1 895.1 1078.5 890.0C1078.9 885.4 1078.9 881.6 1079.3 877.0C1079.7 871.7 1080.4 860.0 1081.0 860.0C1081.5 860.0 1082.0 868.9 1082.5 874.0C1083.1 880.1 1084.1 887.2 1084.5 894.0C1085.0 900.9 1084.8 908.3 1085.2 915.0C1085.6 921.2 1086.4 926.8 1086.7 933.0C1087.1 939.7 1087.0 947.1 1087.3 954.0C1087.6 960.7 1088.0 967.3 1088.4 974.0C1088.8 980.7 1089.2 986.5 1089.5 994.0C1089.8 1003.6 1089.7 1015.8 1090.0 1027.0C1090.3 1038.5 1090.6 1050.3 1091.2 1062.0C1091.8 1073.7 1092.8 1084.5 1093.6 1097.0C1094.5 1111.4 1094.6 1129.2 1096.0 1143.6C1097.2 1156.2 1097.6 1170.4 1101.0 1179.0C1103.2 1184.7 1107.1 1187.4 1110.0 1192.0C1113.1 1197.0 1115.6 1207.1 1119.0 1208.0C1121.5 1208.6 1124.2 1204.0 1127.0 1203.0C1129.6 1202.1 1132.7 1200.9 1135.0 1202.0C1138.0 1203.5 1139.0 1212.7 1142.0 1214.0C1144.3 1215.0 1147.3 1212.5 1150.0 1212.0C1152.7 1211.5 1155.7 1210.0 1158.0 1211.0C1160.8 1212.2 1162.4 1219.5 1165.0 1220.0C1167.2 1220.4 1169.5 1216.0 1172.0 1216.0C1175.0 1216.0 1178.5 1222.0 1182.0 1222.0C1185.8 1222.0 1190.0 1215.7 1194.0 1215.0C1197.6 1214.4 1201.1 1216.0 1205.0 1217.0C1209.7 1218.2 1214.4 1221.8 1220.0 1222.0C1226.9 1222.3 1236.6 1215.6 1243.4 1216.1C1248.9 1216.5 1253.2 1221.2 1258.0 1222.0" stroke="#8e8e00" stroke-dashoffset="9.96"/>
<path d="M1258.0 1222.0C1262.5 1222.7 1267.0 1222.4 1271.3 1221.2C1276.0 1219.9 1280.1 1215.1 1285.0 1214.0C1289.9 1212.9 1295.4 1215.3 1300.5 1214.9C1305.4 1214.6 1310.3 1213.8 1315.0 1212.0C1320.0 1210.0 1325.2 1205.3 1329.5 1203.0C1332.7 1201.3 1335.0 1199.8 1338.0 1199.0C1341.1 1198.1 1345.1 1197.1 1348.0 1198.0C1350.8 1198.9 1352.6 1202.1 1355.0 1204.0C1357.3 1205.8 1360.1 1209.5 1362.0 1209.0C1364.3 1208.4 1365.1 1201.5 1367.0 1198.0C1368.8 1194.7 1371.0 1188.7 1373.0 1188.5C1374.6 1188.4 1376.4 1192.1 1378.0 1194.0C1379.7 1195.9 1381.6 1200.3 1383.0 1200.0C1385.2 1199.5 1386.3 1188.5 1388.0 1183.0C1389.6 1177.8 1390.8 1172.4 1393.0 1168.0C1394.9 1164.2 1397.6 1161.7 1400.0 1158.0C1402.8 1153.7 1405.9 1149.6 1408.6 1143.5C1412.7 1134.3 1416.9 1119.7 1419.9 1107.3C1423.0 1094.6 1424.9 1081.2 1426.7 1068.0C1428.5 1054.8 1429.4 1041.3 1430.5 1028.0C1431.5 1014.8 1432.1 1001.7 1433.0 988.4C1433.9 974.9 1434.9 961.3 1435.8 947.7C1436.7 934.1 1437.8 920.6 1438.5 907.0C1439.2 893.4 1439.2 876.5 1440.0 866.0C1440.5 859.4 1441.2 858.3 1441.8 850.0C1443.9 820.6 1445.7 716.7 1447.3 650.0C1448.9 583.3 1450.2 516.7 1451.4 450.0C1452.6 383.3 1453.3 305.2 1454.7 250.0C1455.7 210.9 1457.2 181.8 1458.3 150.0C1459.3 120.9 1460.1 66.5 1461.0 66.5C1461.9 66.5 1462.8 120.9 1463.8 150.0C1464.9 181.8 1466.4 210.9 1467.4 250.0C1468.8 305.2 1469.5 383.3 1470.7 450.0C1471.9 516.7 1473.5 583.3 1474.8 650.0C1476.1 716.7 1477.3 824.7 1478.4 850.0C1478.7 855.9 1478.9 856.2 1479.2 861.0C1479.7 870.2 1480.1 888.0 1480.6 901.5C1481.2 915.1 1481.8 928.7 1482.5 942.2C1483.2 955.4 1483.8 968.5 1484.6 981.6C1485.4 994.7 1486.3 1007.9 1487.4 1021.0C1488.5 1034.1 1490.3 1047.1 1491.4 1060.3C1492.5 1073.7 1493.0 1087.6 1494.1 1101.0C1495.1 1114.2 1494.8 1128.0 1497.7 1140.3C1500.4 1151.9 1506.2 1161.9 1510.4 1172.8C1514.5 1183.6 1516.9 1196.5 1522.6 1205.4C1527.6 1213.2 1534.1 1220.2 1541.6 1224.4C1549.1 1228.6 1558.7 1229.6 1567.6 1230.4C1576.7 1231.2 1587.5 1230.2 1595.5 1229.0C1601.8 1228.1 1607.6 1227.1 1612.0 1225.0C1615.5 1223.4 1618.2 1221.6 1620.5 1218.7C1623.2 1215.3 1624.7 1210.3 1626.5 1205.2C1628.7 1199.0 1629.3 1184.7 1632.0 1184.0C1633.7 1183.5 1636.5 1187.4 1638.0 1190.0C1639.8 1193.0 1640.2 1197.1 1641.5 1201.5C1643.3 1207.4 1643.8 1217.7 1647.5 1222.5C1650.5 1226.4 1655.3 1228.2 1660.0 1230.0C1665.2 1232.0 1670.9 1232.7 1677.5 1233.7C1685.8 1234.9 1696.5 1235.2 1706.0 1236.0" stroke="#8e8e00" stroke-dashoffset="0.01"/>
<path d="M205.0 1238.0C208.0 1235.8 211.0 1231.7 214.0 1231.5C216.7 1231.3 219.3 1234.4 222.0 1236.0C224.8 1237.6 227.7 1241.0 230.5 1241.0C233.3 1241.0 236.1 1237.6 239.0 1236.0C241.8 1234.4 244.7 1231.5 247.5 1231.5C250.3 1231.5 253.2 1234.4 256.0 1236.0C258.7 1237.6 261.3 1241.0 264.0 1241.0C266.8 1241.0 269.6 1237.6 272.5 1236.0C275.3 1234.4 278.2 1231.6 281.0 1231.5C283.7 1231.4 286.4 1234.1 289.0 1235.0C291.4 1235.9 293.7 1237.7 296.0 1237.0" stroke="#4196d0" stroke-dashoffset="36.29"/>
<path d="M296.0 1237.0C299.3 1236.1 302.4 1226.5 306.0 1226.0C309.2 1225.5 312.7 1232.2 316.0 1232.0C319.7 1231.7 323.4 1223.1 327.0 1223.0C330.4 1222.9 333.9 1230.5 337.0 1230.0C340.7 1229.4 343.6 1216.2 347.0 1216.0C350.0 1215.8 353.5 1226.5 356.0 1226.0C359.1 1225.4 360.7 1211.6 363.0 1206.0C364.7 1201.7 366.2 1195.2 368.0 1195.0C369.3 1194.8 370.8 1197.8 372.0 1200.0C373.6 1203.0 374.7 1212.1 376.0 1212.0C377.8 1211.9 379.7 1195.5 381.0 1186.0C382.6 1174.6 383.3 1161.8 384.4 1148.0C385.7 1131.6 386.6 1108.9 388.0 1094.0C389.0 1083.4 389.8 1076.0 391.2 1067.0C392.6 1058.0 395.2 1051.5 396.6 1040.0C399.0 1020.1 399.1 987.2 400.2 958.0C401.4 924.5 402.6 891.5 403.4 850.0C404.5 793.5 404.4 716.7 405.2 650.0C406.1 583.3 407.4 516.7 408.5 450.0C409.6 383.3 410.9 305.2 411.8 250.0C412.4 210.9 412.8 181.8 413.4 150.0C414.0 121.0 414.5 67.0 415.3 67.0C415.8 67.0 416.4 84.1 416.9 95.0C417.6 110.3 418.2 128.9 418.9 150.0C419.8 178.4 420.8 210.9 421.6 250.0C422.7 305.2 423.6 383.3 424.5 450.0C425.4 516.7 425.9 583.3 427.1 650.0C428.3 716.7 430.4 804.4 431.8 850.0C432.5 873.7 432.7 886.0 433.8 904.0C435.0 922.0 437.2 939.9 438.7 958.0C440.2 976.2 441.3 994.8 442.7 1013.0C444.0 1031.1 445.4 1049.0 446.8 1067.0C448.2 1085.0 449.7 1106.4 450.9 1121.0C451.7 1130.9 451.0 1145.6 453.0 1146.0C454.5 1146.3 457.9 1131.7 460.0 1132.0C463.3 1132.4 465.0 1164.7 468.0 1172.0C469.3 1175.1 470.0 1177.6 472.0 1178.0C474.9 1178.6 481.3 1168.6 485.0 1170.0C491.1 1172.3 494.2 1211.0 497.7 1211.0C500.2 1211.0 501.3 1189.6 504.0 1189.5C507.2 1189.3 511.5 1218.2 516.0 1218.7C519.9 1219.1 525.3 1199.2 528.8 1199.6C532.1 1199.9 532.9 1218.1 536.4 1218.7C539.7 1219.3 545.2 1204.2 549.0 1204.7C553.3 1205.2 557.2 1226.1 560.5 1226.0C563.4 1225.9 564.9 1208.8 568.0 1208.5C571.2 1208.2 575.5 1225.8 579.6 1226.0C583.5 1226.2 587.9 1211.1 592.0 1211.0C595.9 1210.9 600.4 1224.0 603.7 1223.7C606.8 1223.4 608.3 1211.2 611.3 1211.0C614.6 1210.8 618.6 1224.7 622.7 1225.0C626.7 1225.3 631.8 1213.2 635.4 1213.6C638.8 1214.0 640.8 1225.8 644.0 1226.0C647.7 1226.2 653.0 1210.9 656.6 1211.0C659.5 1211.1 661.1 1220.7 664.0 1221.0C667.2 1221.3 671.3 1210.8 675.0 1211.0C679.2 1211.2 683.8 1224.9 688.0 1225.0C691.8 1225.1 695.6 1213.8 699.0 1214.0C702.3 1214.2 705.1 1225.6 708.3 1225.7" stroke="#4196d0" stroke-dashoffset="10.68"/>
<path d="M708.3 1225.7C711.4 1225.8 714.4 1215.7 718.0 1215.0C721.2 1214.4 725.3 1220.6 728.6 1220.0C732.3 1219.3 734.8 1209.5 738.7 1209.0C742.8 1208.5 748.4 1218.8 752.6 1218.3C756.7 1217.8 760.0 1206.4 763.6 1206.0C766.4 1205.7 769.6 1212.1 772.0 1212.0C773.9 1211.9 775.3 1209.5 777.0 1208.0C779.1 1206.2 781.4 1202.1 783.5 1202.0C785.4 1201.9 787.1 1205.2 789.0 1206.0C790.6 1206.7 792.5 1207.6 794.0 1207.0C795.9 1206.2 796.8 1201.7 799.0 1200.0C801.4 1198.3 805.3 1196.5 808.0 1197.0C810.6 1197.5 812.9 1201.9 815.0 1203.0C816.4 1203.7 817.8 1204.6 819.0 1204.0C821.2 1202.8 821.8 1192.8 824.0 1190.0C825.3 1188.3 826.9 1186.8 828.5 1187.0C830.8 1187.3 833.8 1194.6 836.0 1195.0C837.4 1195.3 838.9 1194.4 840.0 1193.0C842.1 1190.4 841.5 1180.6 844.0 1178.0C845.7 1176.3 848.4 1175.7 850.6 1176.0C853.1 1176.4 856.2 1181.7 858.0 1181.0C860.3 1180.2 860.2 1172.5 862.0 1168.0C864.2 1162.6 868.0 1156.0 870.7 1151.0C872.9 1146.9 874.7 1143.8 877.0 1140.0C879.6 1135.7 883.3 1131.8 885.8 1126.4C888.9 1119.6 890.6 1110.1 893.0 1102.0C895.4 1094.0 898.1 1086.9 900.2 1078.0C902.7 1067.3 904.6 1054.9 906.2 1042.0C908.0 1027.2 908.6 1010.0 909.8 994.0C911.0 978.0 912.2 962.0 913.4 946.0C914.6 930.0 915.6 914.0 917.0 898.0C918.4 882.0 920.4 871.5 921.8 850.0C924.6 806.2 925.7 716.7 927.5 650.0C929.3 583.3 931.0 516.7 932.4 450.0C933.8 383.3 934.5 305.2 935.7 250.0C936.6 210.9 937.4 182.5 938.5 150.0C939.5 119.2 940.3 60.1 942.0 60.0C943.0 60.0 944.6 78.3 945.5 90.0C946.8 106.5 947.2 127.5 948.0 150.0C949.0 179.1 949.9 210.9 950.8 250.0C952.1 305.2 953.4 383.3 954.8 450.0C956.2 516.7 956.9 583.3 959.0 650.0C961.1 716.7 963.8 823.8 967.3 850.0C968.2 856.5 969.3 856.9 970.0 862.0C971.3 870.7 971.4 885.5 972.3 898.0C973.3 911.7 974.8 926.8 976.0 941.0C977.2 954.8 978.1 968.3 979.5 982.0C980.9 995.7 982.3 1010.7 984.3 1023.0C985.9 1033.1 988.0 1042.5 990.0 1050.5C991.6 1056.8 993.2 1061.1 995.0 1067.3C997.2 1074.8 999.3 1084.5 1002.0 1092.5C1004.5 1100.1 1007.4 1107.9 1010.4 1114.4C1013.0 1120.0 1015.7 1124.8 1018.8 1129.6C1021.9 1134.3 1025.0 1138.9 1028.9 1143.0C1032.9 1147.3 1039.0 1155.2 1042.4 1154.8C1044.9 1154.5 1045.6 1148.4 1048.0 1147.0C1050.2 1145.7 1053.7 1147.3 1056.0 1146.0" stroke="#4196d0" stroke-dashoffset="30.25"/>
<path d="M1056.0 1146.0C1058.5 1144.5 1060.7 1141.3 1062.0 1138.0C1063.6 1134.0 1063.4 1129.6 1064.0 1123.5C1065.0 1113.4 1065.4 1097.4 1066.3 1082.7C1067.4 1065.5 1069.0 1044.9 1070.2 1026.8C1071.4 1009.7 1072.6 992.6 1073.5 977.0C1074.3 963.2 1074.6 948.8 1075.2 937.8C1075.6 929.8 1075.9 923.9 1076.5 917.0C1077.0 910.3 1078.0 903.7 1078.5 897.0C1079.0 890.3 1078.9 883.7 1079.3 877.0C1079.7 870.3 1080.4 857.0 1081.0 857.0C1081.5 857.0 1081.9 868.1 1082.5 874.0C1083.1 880.4 1084.1 887.2 1084.5 894.0C1085.0 900.9 1084.8 908.3 1085.2 915.0C1085.6 921.2 1086.4 926.8 1086.7 933.0C1087.1 939.7 1087.0 947.1 1087.3 954.0C1087.6 960.7 1088.0 967.3 1088.4 974.0C1088.8 980.7 1089.2 986.5 1089.5 994.0C1089.8 1003.6 1089.7 1015.8 1090.0 1027.0C1090.3 1038.5 1090.6 1050.3 1091.2 1062.0C1091.8 1073.7 1092.8 1084.5 1093.6 1097.0C1094.5 1111.4 1093.6 1130.4 1096.0 1143.6C1097.9 1153.8 1101.8 1161.8 1104.6 1170.0C1107.1 1177.2 1109.4 1184.0 1112.0 1190.0C1114.2 1195.1 1116.4 1203.7 1119.0 1204.0C1121.1 1204.3 1123.6 1196.1 1126.0 1196.0C1128.3 1195.9 1130.6 1200.8 1133.0 1203.0C1135.4 1205.1 1137.7 1208.9 1140.5 1209.0C1143.7 1209.1 1147.9 1202.2 1151.0 1202.0C1153.2 1201.9 1154.9 1203.8 1157.0 1205.0C1159.5 1206.4 1162.1 1209.5 1165.0 1210.0C1167.8 1210.5 1171.1 1207.8 1174.0 1208.0C1176.8 1208.2 1179.3 1210.8 1182.0 1211.0C1184.6 1211.2 1187.4 1208.6 1190.0 1209.0C1192.8 1209.4 1194.8 1212.8 1198.0 1214.0C1201.9 1215.4 1207.5 1216.1 1212.0 1216.0C1216.3 1215.9 1219.8 1213.6 1224.4 1213.6C1230.4 1213.7 1238.2 1218.5 1245.0 1218.0C1252.1 1217.4 1259.3 1210.7 1266.3 1209.8" stroke="#4196d0" stroke-dashoffset="37.67"/>
<path d="M1266.3 1209.8C1272.6 1209.0 1278.9 1213.2 1285.0 1212.0C1291.6 1210.6 1298.1 1203.8 1304.3 1200.9C1309.7 1198.4 1316.0 1196.7 1320.0 1195.0C1322.5 1193.9 1323.8 1193.5 1326.0 1192.0C1329.4 1189.6 1334.2 1181.4 1337.7 1181.0C1340.1 1180.7 1342.5 1185.5 1344.3 1185.0C1346.4 1184.4 1347.6 1178.4 1349.0 1175.0C1350.3 1171.7 1350.4 1167.8 1352.5 1165.0C1354.8 1162.0 1359.9 1160.2 1363.0 1158.0C1365.6 1156.2 1368.3 1155.5 1370.0 1153.0C1372.1 1149.9 1372.3 1144.8 1373.0 1140.0C1373.9 1134.1 1373.3 1127.8 1374.6 1120.1C1376.4 1109.3 1381.8 1094.6 1384.4 1081.6C1387.0 1068.6 1388.9 1055.3 1390.4 1042.3C1391.9 1029.6 1392.7 1017.4 1393.5 1004.5C1394.3 990.9 1394.5 976.3 1395.1 962.6C1395.7 949.5 1395.9 937.3 1397.0 924.0C1398.1 909.8 1400.8 893.3 1401.9 880.0C1402.8 869.1 1402.8 864.4 1403.4 850.0C1405.0 812.8 1408.4 716.7 1410.2 650.0C1412.0 583.3 1412.8 516.7 1414.3 450.0C1415.8 383.3 1418.1 305.2 1419.3 250.0C1420.2 210.9 1420.3 179.4 1421.2 150.0C1421.9 126.9 1423.0 88.0 1424.0 88.0C1425.0 88.0 1426.3 126.9 1427.3 150.0C1428.5 179.4 1429.3 210.9 1430.3 250.0C1431.7 305.2 1433.1 383.3 1434.4 450.0C1435.7 516.7 1436.7 583.3 1438.2 650.0C1439.7 716.7 1441.7 806.8 1443.2 850.0C1443.9 870.7 1444.4 881.1 1445.3 896.0C1446.2 910.1 1447.7 923.6 1448.6 937.0C1449.5 949.9 1449.9 962.2 1450.7 975.0C1451.5 988.2 1452.6 1001.6 1453.4 1015.0C1454.2 1028.6 1454.4 1042.5 1455.3 1056.0C1456.2 1069.3 1457.4 1082.4 1458.9 1095.5C1460.4 1108.7 1462.0 1124.1 1464.3 1135.0C1465.9 1142.9 1467.8 1148.5 1470.0 1155.0C1472.2 1161.3 1474.3 1167.0 1477.5 1173.3C1481.2 1180.6 1486.1 1189.0 1491.5 1196.1C1497.0 1203.4 1503.1 1212.4 1510.5 1216.4C1517.3 1220.0 1525.9 1219.3 1533.4 1220.2C1540.7 1221.0 1549.0 1221.7 1555.0 1221.5" stroke="#4196d0" stroke-dashoffset="15.71"/>
<path d="M1555.0 1221.5C1559.3 1221.3 1562.8 1220.9 1566.0 1220.0C1568.7 1219.3 1570.7 1218.8 1573.0 1217.0C1576.2 1214.5 1579.2 1208.8 1582.0 1205.0C1584.5 1201.5 1587.4 1198.9 1589.0 1195.0C1590.8 1190.7 1590.9 1185.4 1591.5 1180.0C1592.2 1173.8 1592.5 1167.3 1593.0 1160.0C1593.6 1151.0 1594.3 1140.8 1595.0 1130.0C1595.8 1117.4 1596.6 1100.8 1597.6 1089.0C1598.3 1079.9 1598.9 1071.6 1600.0 1065.0C1600.8 1060.3 1601.5 1053.3 1603.0 1053.0C1604.3 1052.8 1606.7 1056.6 1608.0 1060.0C1610.5 1066.7 1610.0 1081.1 1611.0 1092.5C1612.1 1105.3 1613.3 1119.5 1614.4 1133.0C1615.5 1146.5 1617.0 1160.7 1617.8 1173.3C1618.5 1184.5 1616.7 1197.2 1619.0 1205.0C1620.5 1210.2 1623.3 1213.7 1626.0 1217.0C1628.4 1219.9 1630.6 1222.0 1634.0 1224.0C1638.4 1226.6 1645.3 1227.9 1651.0 1230.0C1656.8 1232.1 1662.7 1236.0 1668.5 1236.7C1674.0 1237.3 1679.2 1234.9 1685.0 1234.5C1691.6 1234.1 1699.0 1234.5 1706.0 1234.5" stroke="#4196d0" stroke-dashoffset="19.46"/>
</g>
<g fill="none" shape-rendering="crispEdges" stroke-width="9" stroke-linecap="round" stroke-dasharray="14.5 26.2">
<line x1="457.4" y1="131.5" x2="590.3" y2="131.5" stroke="#515151"/>
<line x1="457.4" y1="204.8" x2="590.3" y2="204.8" stroke="#006fe2"/>
<line x1="457.4" y1="278.1" x2="590.3" y2="278.1" stroke="#c278e2"/>
<line x1="457.4" y1="351.4" x2="590.3" y2="351.4" stroke="#00cbcc"/>
<line x1="457.4" y1="424.7" x2="590.3" y2="424.7" stroke="#8e8e00"/>
<line x1="457.4" y1="498.0" x2="590.3" y2="498.0" stroke="#4196d0"/>
</g>
<g font-size="59.4">
<text x="591" y="151.5">W1=0.1μm</text>
<text x="591" y="224.8">W1=0.5μm</text>
<text x="591" y="298.1">W1=0.9μm</text>
<text x="591" y="371.4">W1=1.3μm</text>
<text x="591" y="444.7">W1=1.7μm</text>
<text x="591" y="518.0">W1=2.1μm</text>
</g>
<g font-size="69.5">
<text x="505.2" y="1317.3" text-anchor="middle">2</text>
<text x="904.8" y="1317.3" text-anchor="middle">4</text>
<text x="1304.4" y="1317.3" text-anchor="middle">6</text>
<text x="1704.0" y="1317.3" text-anchor="middle">8</text>
<text x="180.3" y="1259.6" text-anchor="end">0.0</text>
<text x="180.3" y="666.1" text-anchor="end">0.5</text>
<text x="180.3" y="72.6" text-anchor="end">1.0</text>
</g>
<text x="703.7" y="1428.7" font-size="68.3">Frequency (THz)</text>
<text transform="translate(67,807.5) rotate(-90)" font-size="67.1">Absorption</text>
</svg>
</body></html>
